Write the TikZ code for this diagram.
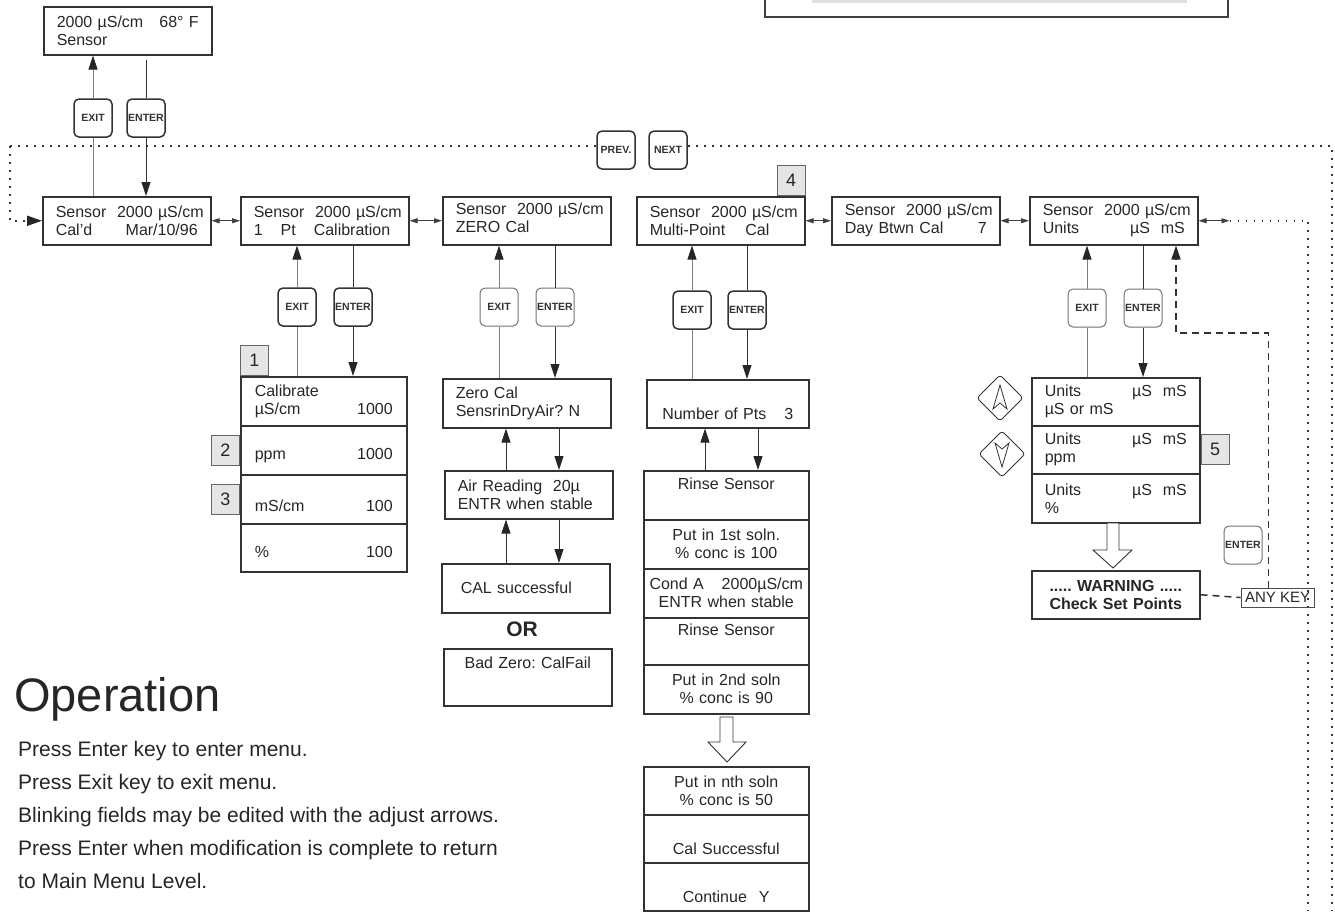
\documentclass[tikz,border=0pt]{standalone}
\usepackage{fontspec}
\setmainfont{Liberation Sans}
\usetikzlibrary{arrows.meta,calc}
\frenchspacing
\newcommand\fillgap{\hskip 0pt plus 1filll\relax}
\newcommand\droptext[1]{\rule{0pt}{#1}}
\newcommand\raisetext[1]{\rule[-#1]{0pt}{#1}}
\newcommand\sensorline{\mbox{Sensor\ \ 2000 µS/cm}}
\newcommand\boxfont{\fontsize{16}{18}\selectfont}
\newcommand\keyfont{\fontsize{10.5}{11}\selectfont\bfseries}
\tikzset{
  bigtip/.tip={Triangle[length=14pt,width=9pt,color=black!85]},
  smalltip/.tip={Triangle[length=8pt,width=5pt]},
  screen/.style={draw=black!80,line width=1.5pt,anchor=north west,minimum width=168pt,minimum height=48pt,
    inner xsep=13pt,inner ysep=0pt,text width=142pt,align=left,font=\boxfont,text=black!85},
  row/.style={screen,minimum width=166pt,text width=138pt,inner xsep=14pt,minimum height=49pt},
  cscreen/.style={screen,minimum width=165pt,inner xsep=2pt,text width=161pt,align=center,minimum height=49pt},
  keybox/.style={draw=black!80,line width=1.5pt,rounded corners=5pt,fill=white,minimum size=38pt,
    inner sep=0pt,font=\keyfont,text=black!80},
  softkey/.style={keybox,draw=black!55,line width=1pt},
  tag/.style={draw=black!60,fill=black!10,line width=1pt,minimum width=28pt,minimum height=30pt,
    inner sep=0pt,font=\fontsize{18}{18}\selectfont,text=black!85},
  conn/.style={draw=black!80,line width=0.9pt,-bigtip},
  exitline/.style={draw=black!50,line width=1pt,-bigtip},
  dblarrow/.style={draw=black!75,line width=0.8pt,smalltip-smalltip},
  dotline/.style={draw=black!80,line width=1.8pt,dash pattern=on 1.8pt off 6.2pt},
  dashline/.style={draw=black!80,line width=1.5pt,dash pattern=on 7pt off 5pt},
  hollow/.style={draw=black!80,line width=0.9pt,fill=white},
  note/.style={inner sep=0pt,text=black!85}
}
\begin{document}
\begin{tikzpicture}[x=1pt,y=-1pt]
\useasboundingbox(0,0)rectangle(1335,911);
%frame at top
\draw[black!75,line width=1.6pt](765,-4)|-(1228,17)--(1228,-4);
\fill[black!12](812,0)rectangle(1187,3);
%home screen
\node[screen](sensor0)at(43,6){2000 µS/cm\fillgap 68° F\\Sensor};
%main row
\node[screen](cald)at(42,196){\sensorline\\Cal'd\fillgap Mar/10/96};
\node[screen](pt1)at(240,196){\sensorline\\1\hspace{18pt}Pt\hspace{18pt}Calibration};
\node[screen](zero)at(442,196){\sensorline\\ZERO Cal\raisetext{6pt}};
\node[screen](multi)at(636,196){\sensorline\\Multi-Point\hspace{20pt}Cal};
\node[screen](day)at(831,196){\sensorline\\Day Btwn Cal\fillgap 7};
\node[screen](units)at(1029,196){\sensorline\\Units\fillgap µS\ \ mS};
\draw[dblarrow](cald.east)--(pt1.west);
\draw[dblarrow](pt1.east)--(zero.west);
\draw[dblarrow](multi.east)--(day.west);
\draw[dblarrow](day.east)--(units.west);
\draw[dblarrow](units.east)--++(31,0)coordinate(unitsout);
%prev/next loop
\coordinate(dotl)at(10,146);
\coordinate(dotr)at(1332,146);
\coordinate(dotrb)at(1332,911);
\coordinate(dotub)at(1308,911);
\node[keybox](prev)at(616,150){PREV.};
\node[keybox](next)at(668,150){NEXT};
\draw[dotline](dotl)--(dotl-|prev.west);
\draw[dotline](dotl-|next.east)--(dotr)--(dotrb);
\draw[dotline,-{Triangle[length=15pt,width=10pt,color=black!85]}](dotl)|-(cald.west);
\draw[dotline](unitsout)-|(dotub);
%home keys
\node[keybox](kx0)at(93,118){EXIT};
\node[keybox](kn0)at(146,118){ENTER};
\draw[exitline](cald.north-|kx0)--(kx0)--(sensor0.south-|kx0);
\draw[conn]($(sensor0.south-|kn0)+(0,4)$)--(kn0)--(cald.north-|kn0);
%one point column
\node[keybox](kx1)at(297,307){EXIT};
\node[keybox](kn1)at(353,307){ENTER};
\node[row](cal1)at(240,376){Calibrate\\µS/cm\fillgap 1000};
\node[row](cal2)at(240,425){\droptext{22pt}ppm\fillgap 1000\hspace{6pt}};
\node[row](cal3)at(240,474){\droptext{24pt}mS/cm\fillgap 100\hspace{8pt}};
\node[row,minimum height=48pt](cal4)at(240,523){\droptext{20pt}\%\fillgap 100\hspace{14pt}};
\node[tag,anchor=south west](tag1)at(cal1.north west){1};
\node[tag,anchor=east](tag2)at(cal2.west){2};
\node[tag,anchor=east](tag3)at(cal3.west){3};
\draw[exitline](cal1.north-|kx1)--(kx1)--(pt1.south-|kx1);
\draw[conn](pt1.south-|kn1)--(kn1)--(cal1.north-|kn1);
%zero column
\node[softkey](kx2)at(499,307){EXIT};
\node[softkey](kn2)at(555,307){ENTER};
\node[screen,minimum width=167pt,minimum height=49pt](zc1)at(442,378){Zero Cal\\SensrinDryAir? N};
\node[screen,minimum width=165pt](zc2)at(444,470){Air Reading\ \ 20µ\\ENTR when stable};
\node[screen,minimum height=49pt](zc3)at(441,563){\hspace{6pt}CAL successful};
\node[note,font=\fontsize{21}{21}\selectfont\bfseries](ortext)at(522,629){OR};
\node[screen,minimum width=166pt,minimum height=57pt,align=center](zc4)at(443,648){\raisetext{30pt}Bad Zero: CalFail};
\coordinate(zup)at(506,0);
\coordinate(zdn)at(559,0);
\draw[exitline](zc1.north-|kx2)--(kx2)--(zero.south-|kx2);
\draw[conn](zero.south-|kn2)--(kn2)--(zc1.north-|kn2);
\draw[conn](zc2.north-|zup)--(zc1.south-|zup);
\draw[conn](zc1.south-|zdn)--(zc2.north-|zdn);
\draw[conn](zc3.north-|zup)--(zc2.south-|zup);
\draw[conn](zc2.south-|zdn)--(zc3.north-|zdn);
%multi point column
\node[keybox](kx3)at(692,310){EXIT};
\node[keybox](kn3)at(747,310){ENTER};
\node[cscreen,minimum width=162pt,text width=158pt,minimum height=48pt](np)at(646,379){\droptext{32pt}Number of Pts\hspace{18pt}3};
\node[cscreen](ms1)at(643,470){\raisetext{24pt}Rinse Sensor};
\node[cscreen](ms2)at(643,519){Put in 1st soln.\\\% conc is 100};
\node[cscreen](ms3)at(643,568){Cond A\hspace{18pt}2000µS/cm\\ENTR when stable};
\node[cscreen,minimum height=47pt](ms4)at(643,617){\raisetext{24pt}Rinse Sensor};
\node[cscreen](ms5)at(643,664){Put in 2nd soln\\\% conc is 90};
\node[cscreen,minimum height=48pt](mn1)at(643,766){Put in nth soln\\\% conc is 50};
\node[cscreen,minimum height=48pt](mn2)at(643,814){\droptext{32pt}Cal Successful};
\node[cscreen,minimum height=48pt](mn3)at(643,862){\droptext{32pt}Continue\hspace{12pt}Y};
\node[tag,anchor=south east](tag4)at(multi.north east){4};
\coordinate(mup)at(705,0);
\coordinate(mdn)at(758,0);
\draw[exitline](np.north-|kx3)--(kx3)--(multi.south-|kx3);
\draw[conn](multi.south-|kn3)--(kn3)--(np.north-|kn3);
\draw[conn](ms1.north-|mup)--(np.south-|mup);
\draw[conn](np.south-|mdn)--(ms1.north-|mdn);
\draw[hollow](720,717)--(733,717)--(733,742)--(746,742)--(727,762)--(708,742)--(720,742)--cycle;
%units column
\node[softkey](kx4)at(1087,308){EXIT};
\node[softkey](kn4)at(1143,308){ENTER};
\node[screen](us1)at(1031,377){Units\fillgap µS\ \ mS\\µS or mS};
\node[screen](us2)at(1031,425){Units\fillgap µS\ \ mS\\ppm};
\node[screen,minimum height=49pt](us3)at(1031,473){Units\fillgap µS\ \ mS\\\%};
\node[tag,anchor=west](tag5)at(us2.east){5};
\draw[exitline](us1.north-|kx4)--(kx4)--(units.south-|kx4);
\draw[conn](units.south-|kn4)--(kn4)--(us1.north-|kn4);
\draw[black!80,line width=0.9pt,rounded corners=3pt](1000,375)--(1023,398)--(1000,421)--(977,398)--cycle;
\draw[black!80,line width=0.8pt](1000,385)--(993,409)--(1000,403)--(1007,409)--cycle;
\draw[black!80,line width=0.9pt,rounded corners=3pt](1002,431)--(1025,454)--(1002,477)--(979,454)--cycle;
\draw[black!80,line width=0.8pt](1002,467)--(995,443)--(1002,449)--(1009,443)--cycle;
\draw[hollow](1107,523)--(1119,523)--(1119,550)--(1132,550)--(1113,568)--(1093,550)--(1107,550)--cycle;
\node[screen,align=center,font=\boxfont\bfseries](warn)at(1031,570){..... WARNING .....\\Check Set Points};
\node[softkey](kn5)at(1243,545){ENTER};
\node[draw=black!70,line width=0.8pt,minimum width=73pt,minimum height=19pt,inner sep=0pt,
  font=\fontsize{15}{15}\selectfont,text=black!85](anykey)at(1277.5,597.5){ANY KEY};
\coordinate(dashup)at(1176,333);
\draw[dashline](warn.east)--(anykey.west);
\draw[dashline,-bigtip]($(anykey.north west)+(28,0)$)|-(dashup)--(units.south-|dashup);
%operation notes
\node[note,anchor=base west,font=\fontsize{47}{50}\selectfont](optitle)at(14,711){Operation};
\node[note,anchor=north west,align=left,font=\fontsize{21}{33}\selectfont](opnotes)at(18,741){Press Enter key to enter menu.\\
Press Exit key to exit menu.\\
Blinking fields may be edited with the adjust arrows.\\
Press Enter when modification is complete to return\\
to Main Menu Level.};
\end{tikzpicture}
\end{document}
